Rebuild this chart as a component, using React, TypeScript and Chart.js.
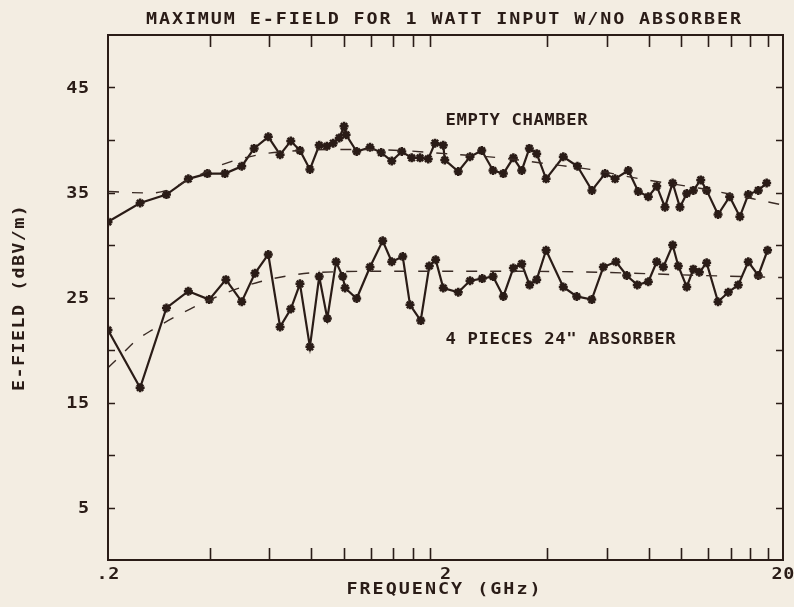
import React, { useEffect, useRef } from 'react';
import { Chart, registerables } from 'chart.js';

Chart.register(...registerables);

// ---- data ----
const emptyFreq = [0.2, 0.249, 0.298, 0.346, 0.394, 0.444, 0.498, 0.542, 0.597, 0.647, 0.696, 0.741, 0.793, 0.845, 0.89, 0.93, 0.969, 1.001, 1.015, 1.091, 1.195, 1.29, 1.386, 1.484, 1.588, 1.681, 1.778, 1.862, 1.97, 1.99, 2.182, 2.364, 2.561, 2.766, 2.968, 3.177, 3.364, 3.544, 3.726, 3.973, 4.467, 4.92, 5.43, 5.94, 6.36, 6.96, 7.45, 7.98, 8.45, 8.94, 9.42, 9.9, 10.37, 10.85, 11.41, 11.88, 12.84, 13.9, 14.9, 15.78, 16.9, 17.89];
const emptyField = [32.2, 34.0, 34.8, 36.3, 36.8, 36.8, 37.5, 39.2, 40.3, 38.6, 39.9, 39.0, 37.2, 39.5, 39.4, 39.7, 40.2, 41.3, 40.5, 38.9, 39.3, 38.8, 38.0, 38.9, 38.3, 38.3, 38.2, 39.7, 39.5, 38.1, 37.0, 38.4, 39.0, 37.1, 36.8, 38.3, 37.1, 39.2, 38.7, 36.3, 38.4, 37.5, 35.2, 36.8, 36.3, 37.1, 35.1, 34.6, 35.6, 33.6, 35.9, 33.6, 34.9, 35.2, 36.2, 35.2, 32.9, 34.6, 32.7, 34.8, 35.2, 35.9];

const emptyTrendFreq = [0.2, 0.232, 0.27, 0.31, 0.345, 0.375, 0.44, 0.56, 0.74, 1.04, 1.47, 2.0, 2.9, 4.08, 5.36, 7.54, 11.35, 12.7, 16.3, 20];
const emptyTrendField = [35.1, 35.0, 34.95, 35.4, 36.2, 36.7, 37.7, 38.6, 39.0, 39.1, 39.0, 38.7, 38.3, 37.7, 37.2, 36.3, 35.4, 35.1, 34.4, 33.8];

const absFreq = [0.2, 0.249, 0.298, 0.346, 0.399, 0.447, 0.498, 0.545, 0.597, 0.647, 0.696, 0.741, 0.793, 0.845, 0.893, 0.948, 0.992, 1.008, 1.091, 1.195, 1.303, 1.386, 1.494, 1.57, 1.689, 1.791, 1.87, 1.97, 2.182, 2.364, 2.57, 2.766, 2.968, 3.177, 3.364, 3.55, 3.726, 3.973, 4.467, 4.895, 5.423, 5.87, 6.4, 6.885, 7.4, 7.98, 8.45, 8.84, 9.42, 9.79, 10.37, 10.85, 11.3, 11.88, 12.84, 13.77, 14.74, 15.78, 16.9, 18.0];
const absField = [21.9, 16.4, 24.0, 25.6, 24.8, 26.7, 24.6, 27.3, 29.1, 22.2, 23.9, 26.3, 20.3, 27.0, 23.0, 28.4, 27.0, 25.9, 24.9, 27.9, 30.4, 28.4, 28.9, 24.3, 22.8, 28.0, 28.6, 25.9, 25.5, 26.6, 26.8, 27.0, 25.1, 27.8, 28.2, 26.2, 26.7, 29.5, 26.0, 25.1, 24.8, 27.9, 28.4, 27.1, 26.2, 26.5, 28.4, 27.9, 30.0, 28.0, 26.0, 27.7, 27.4, 28.3, 24.6, 25.5, 26.2, 28.4, 27.1, 29.5];

const absTrendFreq = [0.2, 0.22, 0.24, 0.27, 0.35, 0.415, 0.479, 0.564, 0.692, 0.849, 1.467, 2.9, 5.74, 11.35, 20];
const absTrendField = [18.3, 19.6, 20.8, 21.9, 23.9, 25.0, 25.8, 26.5, 27.1, 27.4, 27.5, 27.5, 27.4, 27.1, 26.9];

const xLabelTicks = [0.2, 2, 20];
const xTickLabels = ['.2', '2', '20'];
const xMinorTicks = [0.4, 0.6, 0.8, 1.0, 1.2, 1.4, 1.6, 1.8, 4, 6, 8, 10, 12, 14, 16, 18];
const yTicks = [5, 10, 15, 20, 25, 30, 35, 40, 45];
const yTickLabels = ['5', '', '15', '', '25', '', '35', '', '45'];

const titleText = 'MAXIMUM E-FIELD FOR 1 WATT INPUT W/NO ABSORBER';
const xTitleText = 'FREQUENCY (GHz)';
const yTitleText = 'E-FIELD (dBV/m)';
const emptyLabel = 'EMPTY CHAMBER';
const absLabel = '4 PIECES 24" ABSORBER';

// ---- styles ----
const INK = '#2a1c17';
const BG = '#f3ede2';
const FONT = '"DejaVu Sans Mono", "Liberation Mono", monospace';

const toPoints = (xs: number[], ys: number[]) => xs.map((x, i) => ({ x, y: ys[i] }));

function drawText(
  ctx: CanvasRenderingContext2D,
  text: string,
  x: number,
  y: number,
  size: number,
  spacing: number,
  align: CanvasTextAlign,
  rotate = 0,
  sx = 1.15
) {
  ctx.save();
  ctx.translate(x, y);
  if (rotate) ctx.rotate(rotate);
  ctx.scale(sx, 1);
  ctx.font = `bold ${size}px ${FONT}`;
  (ctx as any).letterSpacing = `${spacing / sx}px`;
  ctx.textAlign = align;
  ctx.textBaseline = 'middle';
  ctx.fillStyle = INK;
  let dx = 0;
  if (align === 'center') dx = spacing / sx / 2;
  if (align === 'right') dx = spacing / sx;
  ctx.fillText(text, dx, 0);
  ctx.restore();
}

const decorPlugin = {
  id: 'decor',
  beforeDraw(chart: any) {
    const ctx = chart.ctx as CanvasRenderingContext2D;
    ctx.save();
    ctx.fillStyle = BG;
    ctx.fillRect(0, 0, chart.width, chart.height);
    ctx.restore();
  },
  afterDraw(chart: any) {
    const ctx = chart.ctx as CanvasRenderingContext2D;
    const { left, right, top, bottom } = chart.chartArea;
    const xs = chart.scales.x;
    const ys = chart.scales.y;
    ctx.save();
    ctx.strokeStyle = INK;
    ctx.lineWidth = 2;
    ctx.lineCap = 'butt';
    ctx.strokeRect(left, top, right - left, bottom - top);

    ctx.lineWidth = 1.6;
    ctx.beginPath();
    for (const f of xMinorTicks) {
      const px = Math.round(xs.getPixelForValue(f)) + 0.5;
      ctx.moveTo(px, top);
      ctx.lineTo(px, top + 12);
      ctx.moveTo(px, bottom);
      ctx.lineTo(px, bottom - 12);
    }
    for (const v of yTicks) {
      const py = Math.round(ys.getPixelForValue(v)) + 0.5;
      ctx.moveTo(left, py);
      ctx.lineTo(left + 7, py);
      ctx.moveTo(right, py);
      ctx.lineTo(right - 7, py);
    }
    ctx.stroke();
    ctx.restore();

    // tick labels
    yTicks.forEach((v, i) => {
      const lab = yTickLabels[i];
      if (!lab) return;
      drawText(ctx, lab, left - 19, ys.getPixelForValue(v) + 1, 16, 0.6, 'right');
    });
    xLabelTicks.forEach((f, i) => {
      drawText(ctx, xTickLabels[i], xs.getPixelForValue(f), bottom + 15, 16, 0.6, 'center');
    });

    // titles
    drawText(ctx, titleText, (left + right) / 2 - 2, 19.5, 16, 1.9, 'center');
    drawText(ctx, xTitleText, (left + right) / 2 - 2, bottom + 30, 16, 2.0, 'center');
    drawText(ctx, yTitleText, 20, 298, 16, 1.4, 'center', -Math.PI / 2);

    // series annotations
    drawText(ctx, emptyLabel, xs.getPixelForValue(2.0), ys.getPixelForValue(41.8), 15, 0.6, 'left');
    drawText(ctx, absLabel, xs.getPixelForValue(2.0), ys.getPixelForValue(20.9), 15, 0.6, 'left');
  },
};

export default function App() {
  const canvasRef = useRef<HTMLCanvasElement | null>(null);

  useEffect(() => {
    if (!canvasRef.current) return;
    const seriesStyle = {
      borderColor: INK,
      backgroundColor: INK,
      borderWidth: 2.2,
      pointStyle: 'star' as const,
      pointRadius: 4.5,
      pointBorderWidth: 2.5,
      pointBorderColor: INK,
      pointBackgroundColor: INK,
      tension: 0,
      fill: false,
    };
    const trendStyle = {
      borderColor: '#3a2b25',
      borderWidth: 1.4,
      borderDash: [11, 13],
      pointRadius: 0,
      cubicInterpolationMode: 'monotone' as const,
      fill: false,
    };
    const chart = new Chart(canvasRef.current, {
      type: 'line',
      data: {
        datasets: [
          { label: 'Empty chamber trend', data: toPoints(emptyTrendFreq, emptyTrendField), ...trendStyle },
          { label: '4 pieces absorber trend', data: toPoints(absTrendFreq, absTrendField), ...trendStyle },
          { label: emptyLabel, data: toPoints(emptyFreq, emptyField), ...seriesStyle },
          { label: absLabel, data: toPoints(absFreq, absField), ...seriesStyle },
        ],
      },
      options: {
        animation: false,
        responsive: false,
        devicePixelRatio: 1,
        events: [],
        layout: { padding: { left: 108, top: 35, right: 11, bottom: 47 } },
        plugins: {
          legend: { display: false },
          tooltip: { enabled: false },
          title: { display: false },
        },
        scales: {
          x: { type: 'logarithmic', min: 0.2, max: 20, display: false },
          y: { type: 'linear', min: 0, max: 50, display: false },
        },
      },
      plugins: [decorPlugin],
    });
    return () => chart.destroy();
  }, []);

  return (
    <div style={{ position: 'fixed', left: 0, top: 0, width: 794, height: 607, background: BG }}>
      <canvas ref={canvasRef} width={794} height={607} style={{ display: 'block' }} />
    </div>
  );
}
